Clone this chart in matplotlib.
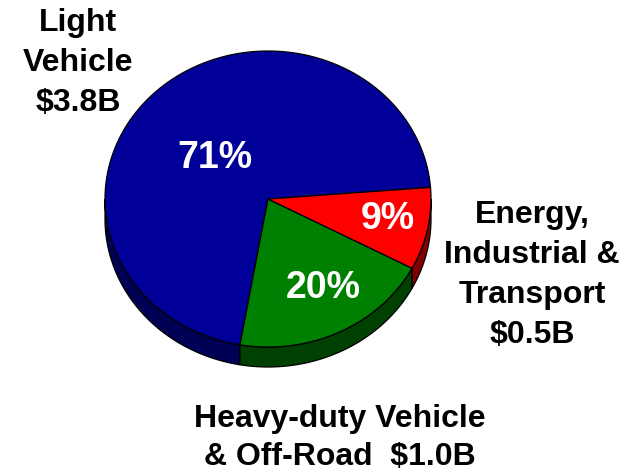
import numpy as np
import matplotlib.pyplot as plt
from matplotlib.patches import Polygon

# slice data (counter-clockwise from start angle)
shares = [71, 20, 9]
pct_labels = ["71%", "20%", "9%"]
top_colors = ["#000099", "#008000", "#ff0000"]
side_colors = ["#000055", "#004000", "#800000"]
names = ["Light\nVehicle\n$3.8B",
         "Heavy-duty Vehicle\n& Off-Road  $1.0B",
         "Energy,\nIndustrial &\nTransport\n$0.5B"]

plt.rcParams['font.family'] = ['Liberation Sans', 'DejaVu Sans']

fig = plt.figure(figsize=(6.26, 4.75), dpi=100)
ax = fig.add_axes([0, 0, 1, 1])
ax.set_xlim(0, 626)
ax.set_ylim(475, 0)
ax.axis("off")

cx, cy = 268, 199
rx, ry = 163, 148
depth = 20
start = 4.5


def arc(t1, t2, dy=0):
    t = np.radians(np.linspace(t1, t2, 200))
    return np.column_stack([cx + rx * np.cos(t), cy + dy - ry * np.sin(t)])


bounds = start + np.concatenate([[0], np.cumsum(shares)]) * 3.6

# side walls (front half only)
for i in range(len(shares)):
    t1, t2 = bounds[i], bounds[i + 1]
    a, b = max(t1, 180), min(t2, 360)
    if b > a:
        top = arc(a, b)
        bot = arc(b, a, depth)
        ax.add_patch(Polygon(np.vstack([top, bot]), closed=True,
                             facecolor=side_colors[i], edgecolor="black", lw=0.9))

# top face
for i in range(len(shares)):
    pts = np.vstack([[[cx, cy]], arc(bounds[i], bounds[i + 1])])
    ax.add_patch(Polygon(pts, closed=True, facecolor=top_colors[i],
                         edgecolor="black", lw=0.9))

pct_pos = [(215, 158), (323, 288), (388, 219)]
for (x, y), s in zip(pct_pos, pct_labels):
    ax.text(x, y, s, color="white", fontsize=27, fontweight="bold",
            ha="center", va="center")

ax.text(78, 63, names[0], fontsize=23, fontweight="bold", ha="center",
        va="center", linespacing=1.44)
ax.text(340, 438, names[1], fontsize=23, fontweight="bold", ha="center",
        va="center", linespacing=1.33)
ax.text(532, 275, names[2], fontsize=23, fontweight="bold", ha="center",
        va="center", linespacing=1.44)

fig.savefig("out.png", dpi=100)
